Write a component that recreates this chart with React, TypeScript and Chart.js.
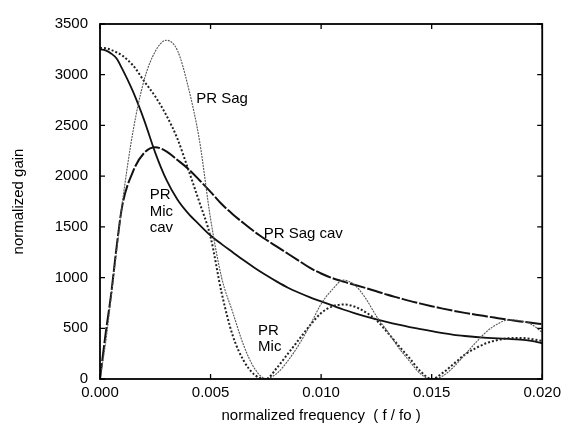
import React, { useEffect, useRef } from 'react';
import { Chart, registerables } from 'chart.js';

Chart.register(...registerables);

// normalized frequency (f / fo)
const freq = [
  0, 0.00025, 0.0005, 0.00075, 0.001, 0.0015, 0.002, 0.0025, 0.003, 0.0035,
  0.004, 0.0045, 0.005, 0.0055, 0.006, 0.0065, 0.007, 0.0075, 0.008, 0.0085,
  0.009, 0.0095, 0.01, 0.0105, 0.011, 0.0115, 0.012, 0.0125, 0.013, 0.0135,
  0.014, 0.0145, 0.015, 0.0155, 0.016, 0.0165, 0.017, 0.0175, 0.018, 0.0185,
  0.019, 0.0195, 0.02,
];

// PR Sag (thin grey)
const prSag = [
  0, 350, 800, 1260, 1720, 2450, 2950, 3230, 3340, 3240,
  2870, 2350, 1580, 1000, 660, 330, 100, 5, 55, 180,
  340, 530, 740, 880, 975, 930, 800, 620, 470, 310,
  175, 50, 0, 30, 120, 240, 360, 470, 545, 583,
  575, 540, 460,
];

// PR Mic (dotted)
const prMic = [
  3265, 3262, 3245, 3220, 3190, 3090, 2935, 2785, 2600, 2370,
  2060, 1740, 1400, 850, 430, 180, 40, 0, 110, 250,
  390, 530, 650, 715, 735, 715, 660, 580, 460, 330,
  205, 75, 0, 60, 150, 240, 305, 355, 385, 402,
  405, 395, 375,
];

// PR Mic cav (solid)
const prMicCav = [
  3250, 3240, 3210, 3160, 3060, 2830, 2550, 2230, 1965, 1770,
  1630, 1520, 1415, 1330, 1250, 1170, 1095, 1025, 960, 900,
  850, 805, 765, 725, 685, 650, 618, 588, 560, 535,
  512, 492, 472, 452, 436, 424, 414, 406, 400, 395,
  388, 375, 355,
];

// PR Sag cav (heavy, slightly broken)
const prSagCav = [
  0, 440, 830, 1300, 1700, 2050, 2230, 2285, 2245, 2160,
  2070, 1960, 1845, 1725, 1625, 1535, 1450, 1375, 1305, 1235,
  1165, 1095, 1040, 995, 960, 930, 898, 865, 830, 800,
  770, 743, 718, 694, 672, 652, 634, 617, 600, 583,
  568, 555, 540,
];

const xTicks = [0, 0.005, 0.01, 0.015, 0.02];
const yTicks = [0, 500, 1000, 1500, 2000, 2500, 3000, 3500];

// curve labels, anchored in data units (left edge, first line centre)
const curveLabels = [
  { x: 0.00435, y: 2760, lines: ['PR Sag'] },
  { x: 0.00225, y: 1813, lines: ['PR', 'Mic', 'cav'] },
  { x: 0.0074, y: 1431, lines: ['PR Sag cav'] },
  { x: 0.00715, y: 478, lines: ['PR', 'Mic'] },
];

const FONT_FAMILY = "'Liberation Sans', Arial, Helvetica, sans-serif";
const INK = '#000';

const toPoints = (ys: number[]) => freq.map((f, i) => ({ x: f, y: ys[i] }));

const framePlugin = {
  id: 'frameAndLabels',
  afterDatasetsDraw(chart: any) {
    const { ctx, chartArea } = chart;
    const { left, right, top, bottom } = chartArea;
    const xs = chart.scales.x;
    const ys = chart.scales.y;
    ctx.save();
    ctx.strokeStyle = INK;
    ctx.lineWidth = 1.8;
    ctx.strokeRect(left, top, right - left, bottom - top);
    ctx.lineWidth = 1.3;
    const tl = 5;
    ctx.beginPath();
    xTicks.forEach((v) => {
      const px = xs.getPixelForValue(v);
      ctx.moveTo(px, bottom);
      ctx.lineTo(px, bottom - tl);
      ctx.moveTo(px, top);
      ctx.lineTo(px, top + tl);
    });
    yTicks.forEach((v) => {
      const py = ys.getPixelForValue(v);
      ctx.moveTo(left, py);
      ctx.lineTo(left + tl, py);
      ctx.moveTo(right, py);
      ctx.lineTo(right - tl, py);
    });
    ctx.stroke();

    ctx.fillStyle = INK;
    ctx.font = `15px ${FONT_FAMILY}`;
    ctx.textAlign = 'left';
    ctx.textBaseline = 'middle';
    curveLabels.forEach((lab) => {
      const px = xs.getPixelForValue(lab.x);
      const py = ys.getPixelForValue(lab.y);
      lab.lines.forEach((t, i) => ctx.fillText(t, px, py + i * 16.5));
    });
    ctx.restore();
  },
};

export default function App() {
  const ref = useRef<HTMLCanvasElement>(null);

  useEffect(() => {
    if (!ref.current) return;
    const font = { family: FONT_FAMILY, size: 15 };
    const chart = new Chart(ref.current, {
      type: 'line',
      data: {
        datasets: [
          {
            label: 'PR Sag',
            data: toPoints(prSag),
            borderColor: '#555',
            borderWidth: 1.1,
            borderDash: [2, 1],
            pointRadius: 0,
            cubicInterpolationMode: 'monotone',
          },
          {
            label: 'PR Mic',
            data: toPoints(prMic),
            borderColor: '#222',
            borderWidth: 2,
            borderDash: [2, 2],
            pointRadius: 0,
            cubicInterpolationMode: 'monotone',
          },
          {
            label: 'PR Mic cav',
            data: toPoints(prMicCav),
            borderColor: '#111',
            borderWidth: 1.8,
            pointRadius: 0,
            cubicInterpolationMode: 'monotone',
          },
          {
            label: 'PR Sag cav',
            data: toPoints(prSagCav),
            borderColor: '#111',
            borderWidth: 2,
            borderDash: [16, 2],
            pointRadius: 0,
            cubicInterpolationMode: 'monotone',
          },
        ],
      },
      options: {
        responsive: false,
        animation: false,
        devicePixelRatio: 1,
        layout: { padding: { left: 6, right: 10, top: 24, bottom: 0 } },
        plugins: {
          legend: { display: false },
          tooltip: { enabled: false },
        },
        scales: {
          x: {
            type: 'linear',
            min: 0,
            max: 0.02,
            grid: { display: false, drawTicks: false },
            border: { display: false },
            ticks: {
              stepSize: 0.005,
              autoSkip: false,
              maxRotation: 0,
              padding: 5,
              color: INK,
              font,
              callback: (v: any) => Number(v).toFixed(3),
            },
            title: {
              display: true,
              text: 'normalized frequency  ( f / fo )',
              color: INK,
              font,
              padding: { top: 2, bottom: 0 },
            },
            afterFit: (s: any) => {
              s.height = 46;
            },
          },
          y: {
            type: 'linear',
            min: 0,
            max: 3500,
            grid: { display: false, drawTicks: false },
            border: { display: false },
            ticks: {
              stepSize: 500,
              padding: 12,
              color: INK,
              font,
              callback: (v: any) => String(v),
            },
            title: {
              display: true,
              text: 'normalized gain',
              color: INK,
              font,
              padding: { top: 4, bottom: 0 },
            },
            afterFit: (s: any) => {
              s.width = 94;
            },
          },
        },
      },
      plugins: [framePlugin],
    } as any);
    return () => chart.destroy();
  }, []);

  return (
    <div
      style={{
        position: 'fixed',
        left: 0,
        top: 0,
        width: 566,
        height: 425,
        background: '#fff',
      }}
    >
      <canvas ref={ref} width={566} height={425} style={{ display: 'block' }} />
    </div>
  );
}
